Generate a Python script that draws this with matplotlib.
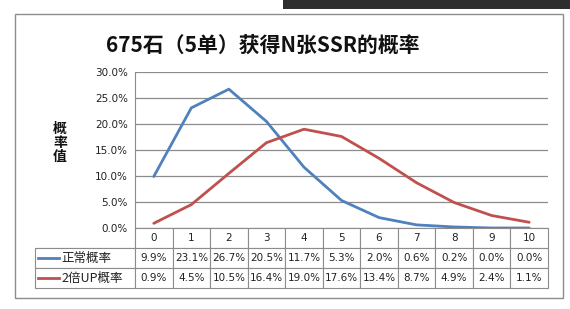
import matplotlib.pyplot as plt
from matplotlib.patches import Rectangle
from matplotlib.lines import Line2D
from matplotlib.ticker import PercentFormatter

plt.rcParams['font.family'] = ['Noto Sans CJK SC', 'DejaVu Sans']

# dados
categorias = ["0", "1", "2", "3", "4", "5", "6", "7", "8", "9", "10"]
serie_nomes = ["正常概率", "2倍UP概率"]
normal = [9.9, 23.1, 26.7, 20.5, 11.7, 5.3, 2.0, 0.6, 0.2, 0.0, 0.0]
dobro_up = [0.9, 4.5, 10.5, 16.4, 19.0, 17.6, 13.4, 8.7, 4.9, 2.4, 1.1]
cores = ["#4F81BD", "#C0504D"]

W, H = 570, 309
fig = plt.figure(figsize=(W / 100, H / 100), dpi=100)

def px(x, y):
    return x / W, 1 - y / H

# moldura do gráfico e barra escura do topo
fig.patches.append(Rectangle(px(15, 298), 548 / W, 284 / H, transform=fig.transFigure,
                             facecolor="white", edgecolor="#8c8c8c", lw=1, zorder=-2))
fig.patches.append(Rectangle(px(283, 9), 287 / W, 9 / H, transform=fig.transFigure,
                             facecolor="#2e2e2e", edgecolor="none", zorder=-1))

x0, x1, ytop, ybot = 135, 548, 72, 228
ax = fig.add_axes([x0 / W, 1 - ybot / H, (x1 - x0) / W, (ybot - ytop) / H])
ax.set_facecolor("none")

xs = list(range(len(categorias)))
for vals, cor in zip([normal, dobro_up], cores):
    ax.plot(xs, vals, color=cor, lw=2.0, solid_capstyle="round", zorder=3)

ax.set_xlim(-0.5, len(categorias) - 0.5)
ax.set_ylim(0, 30)
ax.set_yticks([0, 5, 10, 15, 20, 25, 30])
ax.yaxis.set_major_formatter(PercentFormatter(decimals=1))
ax.set_xticks([])
ax.tick_params(axis="y", length=0, labelsize=7.5, pad=5, labelcolor="#222222")
for t in ax.get_yticklabels():
    t.set_family("DejaVu Sans")
ax.grid(axis="y", color="#8c8c8c", lw=0.9)
for s in ["top", "right", "bottom"]:
    ax.spines[s].set_visible(False)
ax.spines["left"].set_color("#8c8c8c")

# tabela de dados abaixo
ax_h = ybot - ytop
linhas = [[""] + categorias]
linhas.append([""] + [f"{v:.1f}%" for v in normal])
linhas.append([""] + [f"{v:.1f}%" for v in dobro_up])
larg_rotulo = 100
larg_col = (x1 - x0) / len(categorias)
larguras = [larg_rotulo] + [larg_col] * len(categorias)
tab = ax.table(cellText=linhas, colWidths=[w / (x1 - x0) for w in larguras],
               cellLoc="center",
               bbox=[-larg_rotulo / (x1 - x0), -60 / ax_h, 1 + larg_rotulo / (x1 - x0), 60 / ax_h])
tab.auto_set_font_size(False)
tab.set_fontsize(7.5)
for (r, c), cell in tab.get_celld().items():
    cell.set_edgecolor("#8c8c8c")
    cell.set_linewidth(0.8)
    cell.get_text().set_color("#222222")
    cell.get_text().set_family("DejaVu Sans")
    if r == 0 and c == 0:
        cell.visible_edges = "BR"

# chaves da legenda na tabela
for i, (nome, cor) in enumerate(zip(serie_nomes, cores)):
    yc = 238 + 20 * (i + 1)
    fig.add_artist(Line2D([38 / W, 59 / W], [1 - yc / H] * 2, color=cor, lw=2.0))
    fig.text(61 / W, 1 - yc / H, nome, fontsize=9, va="center", ha="left", color="#222222")

fig.text(263 / W, 1 - 45 / H, "675石（5单）获得N张SSR的概率", fontsize=15,
         fontweight="bold", ha="center", va="center", color="#111111")
fig.text(60 / W, 1 - 143 / H, "概\n率\n值", fontsize=10, fontweight="bold",
         ha="center", va="center", linespacing=1.0, color="#111111")

fig.savefig("out.png", dpi=100)
